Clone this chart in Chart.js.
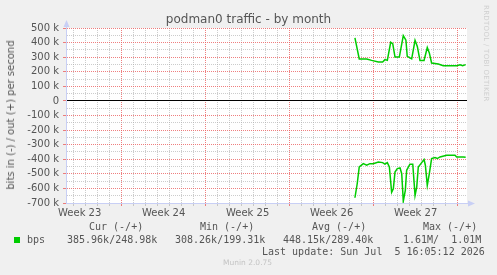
<!DOCTYPE html>
<html>
<head>
<meta charset="utf-8">
<script src="https://cdn.jsdelivr.net/npm/chart.js@4.4.1/dist/chart.umd.min.js"></script>
<style>
  html, body { margin: 0; padding: 0; background: #f0f0f0; }
  #wrap { position: relative; width: 497px; height: 275px; overflow: hidden; }
  #wrap canvas { position: absolute; left: 0; top: 0; }
  .t { position: absolute; white-space: pre; color: #555; }
  .mono { font: 10px "DejaVu Sans Mono", monospace; line-height: 12px; }
  #title { left: 0; width: 497px; top: 11px; text-align: center; font: 12px "DejaVu Sans", sans-serif; line-height: 16px; }
  #ylabel { left: 11px; top: 115px; font: 10px "DejaVu Sans", sans-serif; line-height: 12px;
            transform: translate(-50%, -50%) rotate(-90deg); }
  #rrd { left: 482px; top: 5px; font: 7px "DejaVu Sans", sans-serif; color: #cfcfcf; writing-mode: vertical-rl; letter-spacing: 0.3px; }
  #munin { left: 223px; top: 258px; font: 7.5px "DejaVu Sans", sans-serif; color: #c4c4c4; }
  #swatch { position: absolute; left: 14px; top: 237px; width: 6px; height: 6px; background: #00cc00; }
</style>
</head>
<body>
<div id="wrap">
  <canvas id="chart" width="497" height="275"></canvas>
  <div class="t" id="title">podman0 traffic - by month</div>
  <div class="t" id="ylabel">bits in (-) / out (+) per second</div>
  <div class="t" id="rrd">RRDTOOL / TOBI OETIKER</div>
  <div class="t mono" style="left:89px;top:221px">Cur (-/+)</div>
  <div class="t mono" style="left:200px;top:221px">Min (-/+)</div>
  <div class="t mono" style="left:312px;top:221px">Avg (-/+)</div>
  <div class="t mono" style="left:423px;top:221px">Max (-/+)</div>
  <div id="swatch"></div>
  <div class="t mono" style="left:27px;top:234px">bps</div>
  <div class="t mono" style="left:67px;top:234px">385.96k/248.98k</div>
  <div class="t mono" style="left:175px;top:234px">308.26k/199.31k</div>
  <div class="t mono" style="left:283px;top:234px">448.15k/289.40k</div>
  <div class="t mono" style="left:403px;top:234px">1.61M/  1.01M</div>
  <div class="t mono" style="left:262px;top:246px">Last update: Sun Jul  5 16:05:12 2026</div>
  <div class="t" id="munin">Munin 2.0.75</div>
</div>
<script>
// ================= DATA =================
// x = days since Monday of week 23, y = bits per second (thousands)
const X_MIN = 2.36;
const X_MAX = 35.78;

const weekLabels = ["Week 23", "Week 24", "Week 25", "Week 26", "Week 27"];
const weekMid = [3.5, 10.5, 17.5, 24.5, 31.5];

const outDays = [26.44, 26.80, 27.42, 27.83, 28.39, 28.75, 28.94, 29.14, 29.42, 29.59,
  29.78, 30.14, 30.47, 30.69, 30.80, 31.17, 31.45, 31.64, 31.86, 32.20,
  32.47, 32.64, 32.83, 33.39, 33.80, 34.92, 35.20, 35.42, 35.67];
const outBits = [432, 288, 288, 278, 267, 267, 283, 278, 402, 393,
  301, 301, 448, 416, 306, 288, 416, 374, 278, 278,
  366, 329, 260, 253, 241, 241, 248, 241, 249];

const inDays = [26.44, 26.63, 26.80, 27.14, 27.42, 27.69, 27.97, 28.39, 28.75, 28.94,
  29.14, 29.31, 29.50, 29.64, 29.78, 29.97, 30.20, 30.34, 30.47, 30.64,
  30.75, 31.02, 31.26, 31.45, 31.59, 31.72, 31.94, 32.20, 32.31, 32.47,
  32.64, 32.83, 33.11, 33.31, 33.53, 34.08, 34.78, 34.92, 35.47, 35.67];
const inBits = [-664, -568, -453, -430, -441, -430, -430, -419, -423, -434,
  -423, -453, -626, -602, -488, -464, -460, -499, -688, -614,
  -476, -434, -434, -648, -591, -453, -430, -402, -441, -579,
  -499, -395, -388, -395, -384, -372, -372, -384, -384, -386];

// ================= STYLE =================
const GREEN = "#00cc00";
const MINOR = "rgba(170,170,170,0.6)";
const MAJOR = "rgba(235,95,95,0.8)";
const AXIS = "#c8cff5";

const toPoints = (xs, ys) => xs.map((x, i) => ({ x, y: ys[i] * 1000 }));

const tickVal = c => (c.tick ? c.tick.value : NaN);
const isWhole = v => Math.abs(v - Math.round(v)) < 1e-6;

// white plot area + axis arrows
const rrdFrame = {
  id: "rrdFrame",
  beforeDraw(chart) {
    const { ctx, chartArea: a } = chart;
    ctx.save();
    ctx.fillStyle = "#fff";
    ctx.fillRect(a.left, a.top, a.right - a.left, a.bottom - a.top);
    ctx.restore();
  },
  afterDraw(chart) {
    const { ctx, chartArea: a } = chart;
    ctx.save();
    ctx.strokeStyle = AXIS;
    ctx.fillStyle = AXIS;
    ctx.lineWidth = 1;
    ctx.beginPath();
    ctx.moveTo(a.left + 0.5, a.top);
    ctx.lineTo(a.left + 0.5, a.top - 4);
    ctx.moveTo(a.right, a.bottom + 0.5);
    ctx.lineTo(a.right + 4, a.bottom + 0.5);
    ctx.stroke();
    ctx.beginPath();
    ctx.moveTo(a.left + 0.5, a.top - 8);
    ctx.lineTo(a.left - 2.5, a.top - 1);
    ctx.lineTo(a.left + 3.5, a.top - 1);
    ctx.closePath();
    ctx.fill();
    ctx.beginPath();
    ctx.moveTo(a.right + 8, a.bottom + 0.5);
    ctx.lineTo(a.right + 1, a.bottom - 2.5);
    ctx.lineTo(a.right + 1, a.bottom + 3.5);
    ctx.closePath();
    ctx.fill();
    ctx.restore();
  }
};

Chart.defaults.font.family = "'DejaVu Sans', sans-serif";
Chart.defaults.color = "#555";

new Chart(document.getElementById("chart"), {
  type: "line",
  data: {
    datasets: [
      {
        label: "out",
        data: toPoints(outDays, outBits),
        borderColor: GREEN,
        borderWidth: 1.5,
        pointRadius: 0,
        tension: 0
      },
      {
        label: "in",
        data: toPoints(inDays, inBits),
        borderColor: GREEN,
        borderWidth: 1.5,
        pointRadius: 0,
        tension: 0
      }
    ]
  },
  options: {
    responsive: false,
    animation: false,
    devicePixelRatio: 1,
    layout: { padding: { left: 0, top: 28, right: 30, bottom: 52 } },
    plugins: {
      legend: { display: false },
      tooltip: { enabled: false }
    },
    scales: {
      x: {
        type: "linear",
        min: X_MIN,
        max: X_MAX,
        afterFit: s => { s.height = 20; },
        afterBuildTicks: s => {
          const ticks = [];
          for (let k = 5; k <= X_MAX * 2; k++) ticks.push({ value: k / 2 });
          s.ticks = ticks;
        },
        ticks: {
          autoSkip: false,
          maxRotation: 0,
          padding: 1,
          font: { size: 10 },
          callback: v => {
            const i = weekMid.findIndex(m => Math.abs(m - v) < 1e-6);
            return i >= 0 ? weekLabels[i] : "";
          }
        },
        grid: {
          tickLength: 3,
          color: c => {
            const v = tickVal(c);
            if (!isWhole(v)) return "rgba(0,0,0,0)";
            return Math.round(v) % 7 === 0 ? MAJOR : MINOR;
          }
        },
        border: { color: AXIS, dash: [1, 1] }
      },
      y: {
        min: -700000,
        max: 500000,
        afterFit: s => { s.width = 66; },
        ticks: {
          stepSize: 50000,
          autoSkip: false,
          padding: 4,
          font: { size: 10 },
          callback: v => {
            if (v % 100000 !== 0) return "";
            return v === 0 ? "0" : (v / 1000) + " k";
          }
        },
        grid: {
          tickLength: 3,
          color: c => {
            const v = tickVal(c);
            if (v === 0) return "#000";
            return v % 100000 === 0 ? MAJOR : MINOR;
          },
          tickColor: c => (tickVal(c) % 100000 === 0 ? MAJOR : "rgba(0,0,0,0)")
        },
        border: {
          color: AXIS,
          dash: c => (tickVal(c) === 0 ? [] : [1, 1])
        }
      }
    }
  },
  plugins: [rrdFrame]
});
</script>
</body>
</html>
